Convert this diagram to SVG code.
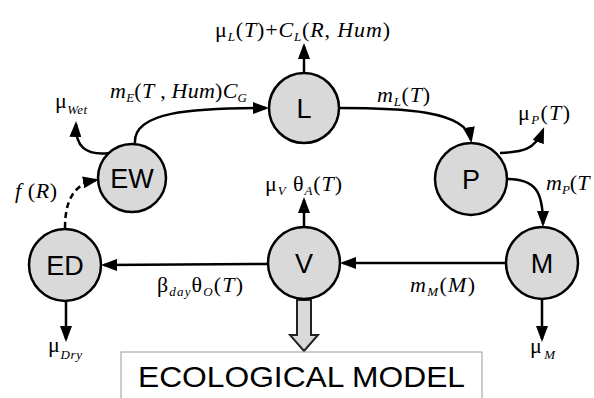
<svg xmlns="http://www.w3.org/2000/svg" width="594" height="398" viewBox="0 0 594 398">
<style>
.node circle{fill:#d9d9d9;stroke:#000;stroke-width:2.5}
.node text{font-family:"Liberation Sans",Arial,sans-serif;font-size:27px;text-anchor:middle;fill:#000}
.c{fill:none;stroke:#000;stroke-width:2.5;marker-end:url(#ah)}
.d{stroke-dasharray:6 4}
.m{font-family:"Liberation Serif","DejaVu Serif",serif;font-style:italic;font-size:22px;fill:#000}
.s{font-size:13px}
.u{font-style:normal}
</style>
<defs>
<marker id="ah" viewBox="0 0 16 12" refX="13" refY="6" markerWidth="16" markerHeight="12" orient="auto" markerUnits="userSpaceOnUse"><path d="M0,0 L16,6 L0,12 z" fill="#000"/></marker>
</defs>
<rect width="594" height="398" fill="#fff"/>
<g id="connectors">
<path class="c" d="M135,143 C133,112 190,108 266,108"/>
<path class="c" d="M110,153 C85,156 75,146 76,124"/>
<path class="c" d="M304,72 L304,46"/>
<path class="c" d="M339,108 C400,108 466,110 471,140"/>
<path class="c" d="M500,153 C522,152 535,150 543,130"/>
<path class="c" d="M507,179 C536,179 543,192 543,224"/>
<path class="c" d="M507,263 L343,263"/>
<path class="c" d="M268,264 L104,265"/>
<path class="c" d="M304,227 L304,200"/>
<path class="c" d="M66,301 L66,339"/>
<path class="c" d="M542,299 L542,339"/>
<path class="c d" d="M65,228 C65,200 74,184 96,180"/>
<polygon points="297,300 311,300 311,335 318,335 304,351 290,335 297,335" fill="#d9d9d9" stroke="#222" stroke-width="2"/>
</g>
<g id="L" class="node"><circle cx="304" cy="108" r="35"/><text x="304" y="118">L</text></g>
<g id="EW" class="node"><circle cx="132" cy="178" r="34"/><text x="132" y="188">EW</text></g>
<g id="ED" class="node"><circle cx="65" cy="265" r="36"/><text x="65" y="275">ED</text></g>
<g id="V" class="node"><circle cx="304" cy="263" r="36"/><text x="304" y="273">V</text></g>
<g id="P" class="node"><circle cx="471" cy="179" r="36"/><text x="471" y="189">P</text></g>
<g id="M" class="node"><circle cx="542" cy="263" r="36"/><text x="542" y="273">M</text></g>
<g id="model">
<rect x="121" y="352" width="361" height="60" fill="#fff" stroke="#999" stroke-width="1"/>
<text x="138" y="387" font-family="Liberation Sans,Arial,sans-serif" font-size="29" textLength="327" lengthAdjust="spacingAndGlyphs">ECOLOGICAL MODEL</text>
</g>
<g id="labels">
<text class="m" x="215" y="37" textLength="175"><tspan class="u">μ</tspan><tspan class="s" dy="4">L</tspan><tspan class="u" dy="-4">(</tspan>T<tspan class="u">)+</tspan>C<tspan class="s" dy="4">L</tspan><tspan class="u" dy="-4">(</tspan>R<tspan class="u">, </tspan>Hum<tspan class="u">)</tspan></text>
<text class="m" x="110" y="98" textLength="137"><tspan>m</tspan><tspan class="s" dy="4">E</tspan><tspan class="u" dy="-4">(</tspan>T<tspan class="u"> , </tspan>Hum<tspan class="u">)</tspan>C<tspan class="s" dy="4">G</tspan></text>
<text class="m" x="55" y="108" textLength="32"><tspan class="u">μ</tspan><tspan class="s" dy="6">Wet</tspan></text>
<text class="m" x="377" y="102" textLength="53">m<tspan class="s" dy="4">L</tspan><tspan class="u" dy="-4">(</tspan>T<tspan class="u">)</tspan></text>
<text class="m" x="518" y="120" textLength="52"><tspan class="u">μ</tspan><tspan class="s" dy="4">P</tspan><tspan class="u" dy="-4">(</tspan>T<tspan class="u">)</tspan></text>
<text class="m" x="546" y="190">m<tspan class="s" dy="4">P</tspan><tspan class="u" dy="-4">(</tspan>T</text>
<text class="m" x="265" y="191" textLength="77"><tspan class="u">μ</tspan><tspan class="s" dy="4">V</tspan><tspan class="u" dy="-4"> θ</tspan><tspan class="s" dy="4">A</tspan><tspan class="u" dy="-4">(</tspan>T<tspan class="u">)</tspan></text>
<text class="m" x="15" y="198" textLength="42">f<tspan class="u"> (</tspan>R<tspan class="u">)</tspan></text>
<text class="m" x="157" y="292" textLength="86"><tspan class="u">β</tspan><tspan class="s" dy="4">day</tspan><tspan class="u" dy="-4">θ</tspan><tspan class="s" dy="4">O</tspan><tspan class="u" dy="-4">(</tspan>T<tspan class="u">)</tspan></text>
<text class="m" x="410" y="292" textLength="65">m<tspan class="s" dy="4">M</tspan><tspan class="u" dy="-4">(</tspan>M<tspan class="u">)</tspan></text>
<text class="m" x="48" y="352" textLength="34"><tspan class="u">μ</tspan><tspan class="s" dy="7">Dry</tspan></text>
<text class="m" x="530" y="353" textLength="25"><tspan class="u">μ</tspan><tspan class="s" dy="6">M</tspan></text>
</g>
</svg>
